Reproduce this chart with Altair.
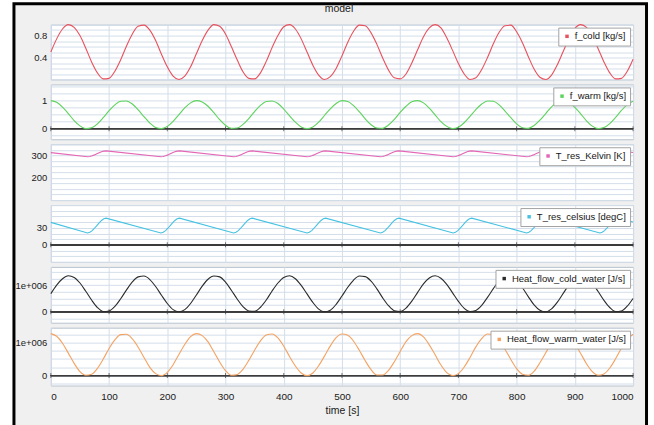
import altair as alt
import pandas as pd

# ---------------------------------------------------------------------------
# Simulation results of "model", sampled every 10 s from 0 to 1000 s
# ---------------------------------------------------------------------------
time_s = list(range(0, 1001, 10))

f_cold = [
    0.50, 0.74, 0.92, 1.00, 0.95, 0.80, 0.57, 0.32, 0.12, 0.01,
    0.02, 0.15, 0.36, 0.61, 0.83, 0.97, 0.99, 0.90, 0.71, 0.46,
    0.23, 0.06, 0.00, 0.06, 0.23, 0.47, 0.71, 0.90, 1.00, 0.97,
    0.83, 0.60, 0.36, 0.14, 0.02, 0.01, 0.12, 0.33, 0.58, 0.80,
    0.96, 1.00, 0.92, 0.74, 0.50, 0.26, 0.08, 0.00, 0.05, 0.20,
    0.43, 0.68, 0.88, 0.99, 0.98, 0.85, 0.64, 0.39, 0.17, 0.03,
    0.01, 0.10, 0.30, 0.54, 0.78, 0.94, 1.00, 0.94, 0.76, 0.53,
    0.29, 0.10, 0.00, 0.03, 0.18, 0.40, 0.65, 0.86, 0.98, 0.99,
    0.87, 0.67, 0.42, 0.19, 0.04, 0.00, 0.08, 0.27, 0.51, 0.75,
    0.93, 1.00, 0.95, 0.79, 0.56, 0.32, 0.12, 0.01, 0.02, 0.15,
    0.37,
]

f_warm = [
    1.00, 0.94, 0.77, 0.54, 0.29, 0.10, 0.00, 0.03, 0.17, 0.39,
    0.64, 0.85, 0.98, 0.99, 0.88, 0.67, 0.43, 0.20, 0.04, 0.00,
    0.08, 0.26, 0.50, 0.74, 0.92, 1.00, 0.95, 0.80, 0.57, 0.32,
    0.12, 0.01, 0.02, 0.15, 0.36, 0.61, 0.83, 0.97, 0.99, 0.90,
    0.70, 0.46, 0.23, 0.06, 0.00, 0.06, 0.23, 0.47, 0.71, 0.90,
    1.00, 0.97, 0.82, 0.60, 0.35, 0.14, 0.02, 0.01, 0.13, 0.33,
    0.58, 0.80, 0.96, 1.00, 0.92, 0.73, 0.49, 0.25, 0.08, 0.00,
    0.05, 0.21, 0.44, 0.68, 0.88, 0.99, 0.98, 0.85, 0.63, 0.39,
    0.17, 0.03, 0.01, 0.11, 0.30, 0.54, 0.78, 0.94, 1.00, 0.93,
    0.76, 0.53, 0.28, 0.09, 0.00, 0.04, 0.18, 0.40, 0.65, 0.86,
    0.98,
]

# heat flows, in units of 1e6 J/s
heat_cold = [
    0.68, 1.00, 1.24, 1.35, 1.29, 1.08, 0.77, 0.44, 0.16, 0.01,
    0.03, 0.20, 0.49, 0.82, 1.12, 1.31, 1.34, 1.21, 0.95, 0.62,
    0.31, 0.08, 0.00, 0.08, 0.31, 0.63, 0.96, 1.22, 1.34, 1.31,
    1.11, 0.81, 0.48, 0.19, 0.03, 0.02, 0.17, 0.44, 0.78, 1.08,
    1.29, 1.35, 1.24, 0.99, 0.67, 0.35, 0.10, 0.00, 0.06, 0.28,
    0.59, 0.92, 1.19, 1.34, 1.32, 1.15, 0.86, 0.52, 0.23, 0.04,
    0.01, 0.14, 0.40, 0.73, 1.05, 1.27, 1.35, 1.26, 1.03, 0.71,
    0.39, 0.13, 0.01, 0.05, 0.24, 0.54, 0.87, 1.16, 1.33, 1.33,
    1.18, 0.90, 0.57, 0.26, 0.06, 0.00, 0.11, 0.36, 0.69, 1.01,
    1.25, 1.35, 1.28, 1.07, 0.76, 0.43, 0.16, 0.01, 0.03, 0.21,
    0.50,
]

heat_warm = [
    1.27, 1.19, 0.98, 0.68, 0.37, 0.12, 0.01, 0.04, 0.22, 0.50,
    0.82, 1.08, 1.24, 1.25, 1.11, 0.86, 0.55, 0.25, 0.06, 0.00,
    0.10, 0.33, 0.64, 0.94, 1.18, 1.27, 1.21, 1.02, 0.72, 0.41,
    0.15, 0.01, 0.03, 0.19, 0.46, 0.77, 1.05, 1.23, 1.26, 1.14,
    0.89, 0.58, 0.29, 0.08, 0.00, 0.08, 0.30, 0.59, 0.90, 1.15,
    1.26, 1.22, 1.04, 0.76, 0.45, 0.18, 0.02, 0.02, 0.16, 0.42,
    0.73, 1.03, 1.21, 1.27, 1.17, 0.93, 0.63, 0.32, 0.09, 0.00,
    0.06, 0.26, 0.55, 0.87, 1.12, 1.26, 1.24, 1.08, 0.80, 0.49,
    0.21, 0.04, 0.01, 0.13, 0.39, 0.69, 0.99, 1.19, 1.27, 1.19,
    0.97, 0.67, 0.36, 0.12, 0.01, 0.05, 0.23, 0.51, 0.83, 1.09,
    1.25,
]

# reservoir temperature: linear cool-down, quick warm-up after each minimum
temp_time = [
    0,
    63, 67, 71, 75, 79, 83, 87, 91, 95,
    189, 193, 197, 201, 205, 209, 213, 217, 221,
    314, 318, 322, 326, 330, 334, 338, 342, 346,
    440, 444, 448, 452, 456, 460, 464, 468, 472,
    566, 570, 574, 578, 582, 586, 590, 594, 598,
    691, 695, 699, 703, 707, 711, 715, 719, 723,
    817, 821, 825, 829, 833, 837, 841, 845, 849,
    943, 947, 951, 955, 959, 963, 967, 971, 975,
    1000,
]

temp_celsius = [
    39.5,
    21.0, 22.1, 25.1, 29.2, 34.0, 38.8, 42.9, 45.9, 47.0,
    21.0, 22.1, 25.1, 29.2, 34.0, 38.8, 42.9, 45.9, 47.0,
    21.0, 22.1, 25.1, 29.2, 34.0, 38.8, 42.9, 45.9, 47.0,
    21.0, 22.1, 25.1, 29.2, 34.0, 38.8, 42.9, 45.9, 47.0,
    21.0, 22.1, 25.1, 29.2, 34.0, 38.8, 42.9, 45.9, 47.0,
    21.0, 22.1, 25.1, 29.2, 34.0, 38.8, 42.9, 45.9, 47.0,
    21.0, 22.1, 25.1, 29.2, 34.0, 38.8, 42.9, 45.9, 47.0,
    21.0, 22.1, 25.1, 29.2, 34.0, 38.8, 42.9, 45.9, 47.0,
    40.1,
]

temp_kelvin = [
    312.7,
    294.2, 295.3, 298.3, 302.4, 307.2, 312.0, 316.1, 319.1, 320.2,
    294.2, 295.3, 298.3, 302.4, 307.2, 312.0, 316.1, 319.1, 320.2,
    294.2, 295.3, 298.3, 302.4, 307.2, 312.0, 316.1, 319.1, 320.2,
    294.2, 295.3, 298.3, 302.4, 307.2, 312.0, 316.1, 319.1, 320.2,
    294.2, 295.3, 298.3, 302.4, 307.2, 312.0, 316.1, 319.1, 320.2,
    294.2, 295.3, 298.3, 302.4, 307.2, 312.0, 316.1, 319.1, 320.2,
    294.2, 295.3, 298.3, 302.4, 307.2, 312.0, 316.1, 319.1, 320.2,
    294.2, 295.3, 298.3, 302.4, 307.2, 312.0, 316.1, 319.1, 320.2,
    313.3,
]

time_ticks = list(range(0, 1001, 100))

# ---------------------------------------------------------------------------
# Styling
# ---------------------------------------------------------------------------
FONT = "Liberation Sans, Arial, sans-serif"
GRID = "#d3deea"
AXIS_DARK = "#3c3c3c"
PLOT_W = 584


def label_expr(shown):
    parts = [f"datum.value == {v} ? '{txt}'" for v, txt in shown]
    return " : ".join(parts) + " : ''"


def panel(t, values, name, color, domain, grid_values, shown, height,
          zero_line=False, bottom=False, smooth=True):
    df = pd.DataFrame({"time": t, "value": values, "series": name})

    if bottom:
        x_axis = alt.Axis(values=time_ticks, grid=True, gridColor=GRID,
                          ticks=False, domain=False, labelPadding=6,
                          labelFontSize=10, format="d", title="time [s]",
                          titlePadding=4, titleFontSize=10.5,
                          titleFontWeight="normal")
    else:
        x_axis = alt.Axis(values=time_ticks, grid=True, gridColor=GRID,
                          labels=False, ticks=False, domain=False, title=None)

    y_axis = alt.Axis(values=grid_values, grid=True, gridColor=GRID,
                      ticks=False, domain=False, labelPadding=4,
                      labelFontSize=9.5, labelExpr=label_expr(shown),
                      title=None)

    x_enc = alt.X("time:Q", scale=alt.Scale(domain=[0, 1000], nice=False),
                  axis=x_axis)
    y_enc = alt.Y("value:Q",
                  scale=alt.Scale(domain=domain, nice=False, zero=False),
                  axis=y_axis)

    line = alt.Chart(df).mark_line(
        strokeWidth=1.1, interpolate="monotone" if smooth else "linear"
    ).encode(
        x=x_enc,
        y=y_enc,
        color=alt.Color(
            "series:N",
            scale=alt.Scale(domain=[name], range=[color]),
            legend=alt.Legend(
                orient="top-right", title=None, offset=3, padding=4,
                fillColor="white", strokeColor="#a3a3a3",
                symbolType="square", symbolSize=12,
                symbolFillColor=color, symbolStrokeColor=color,
                symbolStrokeWidth=0, labelFont=FONT, labelFontSize=9.5,
                labelColor="#151515", labelOffset=3,
            ),
        ),
    )

    layers = []
    if zero_line:
        zero_df = pd.DataFrame({"time": time_ticks, "value": 0.0})
        layers.append(
            alt.Chart(zero_df).mark_rule(color=AXIS_DARK, strokeWidth=1)
            .encode(y=y_enc)
        )
        layers.append(
            alt.Chart(zero_df).mark_tick(color=AXIS_DARK, orient="vertical",
                                         size=5, thickness=1)
            .encode(x=x_enc, y=y_enc)
        )
    layers.append(line)
    return alt.layer(*layers).properties(width=PLOT_W, height=height)


# ---------------------------------------------------------------------------
# Frame and title above the stacked panels
# ---------------------------------------------------------------------------
head_df = pd.DataFrame({"label": ["model"]})
page = alt.Chart(head_df).mark_rect(fill="white").encode(
    x=alt.value(-50), x2=alt.value(604), y=alt.value(-10), y2=alt.value(430)
)
frame = alt.Chart(head_df).mark_rect(
    fill="#f0f0f0", stroke="black", strokeWidth=3
).encode(
    x=alt.value(-37), x2=alt.value(597.5), y=alt.value(-8), y2=alt.value(440)
)
title = alt.Chart(head_df).mark_text(
    font=FONT, fontSize=10.5, color="#1a1a1a", align="center",
    baseline="alphabetic"
).encode(x=alt.value(289), y=alt.value(0), text="label:N")
header = alt.layer(page, frame, title).properties(width=PLOT_W, height=8)

# ---------------------------------------------------------------------------
# The six panels
# ---------------------------------------------------------------------------
p1 = panel(time_s, f_cold, "f_cold [kg/s]", "#e8505c", [0, 1],
           [0, 0.1, 0.2, 0.3, 0.4, 0.5, 0.6, 0.7, 0.8, 0.9, 1.0],
           [(0.4, "0.4"), (0.8, "0.8")], 55)
p2 = panel(time_s, f_warm, "f_warm [kg/s]", "#5cd35c", [-0.38, 1.58],
           [-0.25, 0, 0.25, 0.5, 0.75, 1, 1.25, 1.5],
           [(0, "0"), (1, "1")], 55, zero_line=True)
p3 = panel(temp_time, temp_kelvin, "T_res_Kelvin [K]", "#e466b4", [100, 350],
           [100, 125, 150, 175, 200, 225, 250, 275, 300, 325, 350],
           [(200, "200"), (300, "300")], 56, smooth=False)
p4 = panel(temp_time, temp_celsius, "T_res_celsius [degC]", "#45c2e2",
           [-30, 70], [-30, -20, -10, 0, 10, 20, 30, 40, 50, 60, 70],
           [(0, "0"), (30, "30")], 57, zero_line=True, smooth=False)
p5 = panel(time_s, heat_cold, "Heat_flow_cold_water [J/s]", "#2a2a2a",
           [-0.41, 1.685], [-0.25, 0, 0.25, 0.5, 0.75, 1, 1.25, 1.5],
           [(0, "0"), (1, "1e+006")], 56, zero_line=True)
p6 = panel(time_s, heat_warm, "Heat_flow_warm_water [J/s]", "#f4a262",
           [-0.30, 1.45], [-0.25, 0, 0.25, 0.5, 0.75, 1, 1.25],
           [(0, "0"), (1, "1e+006")], 58, zero_line=True, bottom=True)

chart = (
    alt.vconcat(header, p1, p2, p3, p4, p5, p6, spacing=5, bounds="flush")
    .resolve_scale(y="independent", color="independent")
    .resolve_legend(color="independent")
    .properties(padding=0, background="white")
    .configure_view(fill="white", stroke="#b7c3cf", strokeWidth=1)
    .configure_axis(labelFont=FONT, labelColor="#1a1a1a",
                    titleFont=FONT, titleColor="#1a1a1a")
)

chart.save("out.html", embed_options={"renderer": "svg", "actions": False})
